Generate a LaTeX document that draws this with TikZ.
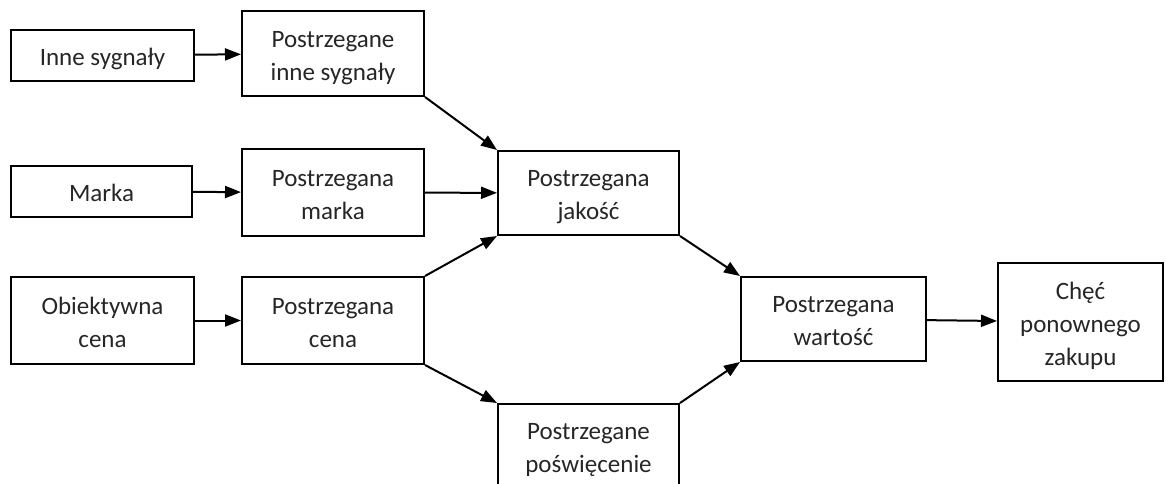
\documentclass[tikz,border=0pt]{standalone}
\usepackage{fontspec}
\setmainfont{Carlito}
\usetikzlibrary{arrows.meta}
% centred lines of a box, set a little below the middle
\newcommand{\boxlines}[1]{\raisebox{-3.5pt}[\height][\depth]{\begin{tabular}{@{}c@{}}#1\end{tabular}}}
\begin{document}
\begin{tikzpicture}[x=1pt,y=-1pt,
  box/.style={draw=black,line width=2pt,rectangle,inner sep=0pt,
    font=\fontsize{25}{33}\selectfont,text=black!85},
  link/.style={line width=2pt,-{Triangle[length=16pt,width=12pt]}}]
\useasboundingbox (0,0) rectangle (1166,484);
\clip (0,0) rectangle (1166,484);
% input signals
\node[box,minimum width=183pt,minimum height=51pt] (is) at (102.5,55.5) {\boxlines{Inne sygnały}};
\node[box,minimum width=181pt,minimum height=51pt] (mk) at (101.5,191.5) {\boxlines{Marka}};
\node[box,minimum width=183pt,minimum height=87pt] (oc) at (102.5,320.5) {\boxlines{Obiektywna\\cena}};
% perceived signals
\node[box,minimum width=182pt,minimum height=85pt] (pis) at (333,53.5) {\boxlines{Postrzegane\\inne sygnały}};
\node[box,minimum width=182pt,minimum height=87pt] (pmk) at (333,192.5) {\boxlines{Postrzegana\\marka}};
\node[box,minimum width=182pt,minimum height=87pt] (pc) at (333,320.5) {\boxlines{Postrzegana\\cena}};
% quality and sacrifice
\node[box,minimum width=181pt,minimum height=84pt] (pj) at (588.5,193) {\boxlines{Postrzegana\\jakość}};
\node[box,minimum width=181pt,minimum height=84pt] (pp) at (588.5,446) {\boxlines{Postrzegane\\poświęcenie}};
% value and intention
\node[box,minimum width=185pt,minimum height=84pt] (pw) at (833.5,319) {\boxlines{Postrzegana\\wartość}};
\node[box,minimum width=165pt,minimum height=118pt] (ch) at (1080.5,322) {\boxlines{Chęć\\ponownego\\zakupu}};
% connectors
\draw[link] (is) -- (pis);
\draw[link] (mk) -- (pmk);
\draw[link] (oc) -- (pc);
\draw[link] (pis.south east) -- (pj.north west);
\draw[link] (pmk) -- (pj);
\draw[link] (pc.north east) -- (pj.south west);
\draw[link] (pc.south east) -- (pp.north west);
\draw[link] (pj.south east) -- (pw.north west);
\draw[link] (pp.north east) -- (pw.south west);
\draw[link] (pw) -- (ch);
\end{tikzpicture}
\end{document}
